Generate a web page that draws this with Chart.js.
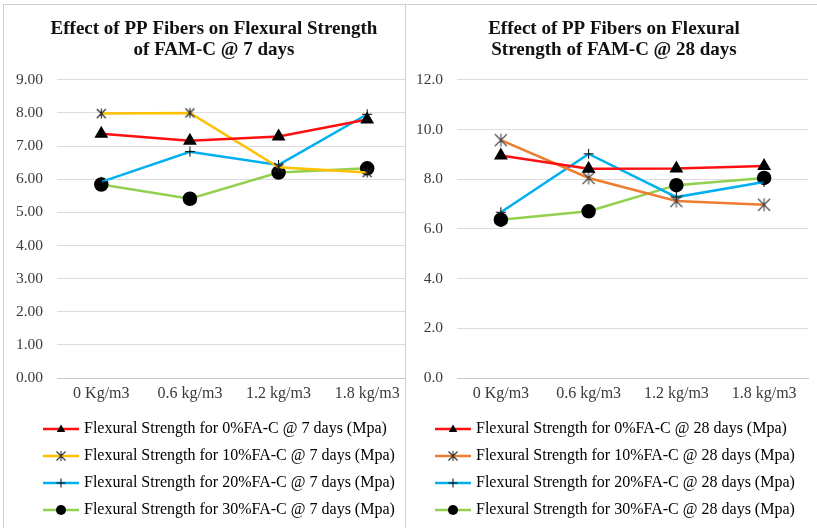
<!DOCTYPE html>
<html>
<head>
<meta charset="utf-8">
<script src="https://cdn.jsdelivr.net/npm/chart.js@4.4.1/dist/chart.umd.min.js"></script>
<style>
  body { margin:0; background:#fff; overflow:hidden; width:817px; height:528px; }
  .panel { position:absolute; top:4px; height:530px; background:#fff; border-top:1px solid #cfcfcf; border-left:1px solid #cfcfcf; }
  canvas { position:absolute; top:5px; }
</style>
</head>
<body>
<div class="panel" style="left:3px;width:430px"></div>
<canvas id="c7" width="416" height="523" style="left:4px;width:416px;height:523px"></canvas>
<div class="panel" style="left:405px;width:420px"></div>
<canvas id="c28" width="411" height="523" style="left:406px;width:411px;height:523px"></canvas>
<script>
// ── DATA ────────────────────────────────────────────────
const fibers = ['0 Kg/m3', '0.6 kg/m3', '1.2 kg/m3', '1.8 kg/m3'];

const fs7_0  = [7.37, 7.16, 7.29, 7.80];
const fs7_10 = [7.98, 8.00, 6.36, 6.20];
const fs7_20 = [5.92, 6.83, 6.43, 7.96];
const fs7_30 = [5.84, 5.41, 6.20, 6.33];

const fs28_0  = [8.95, 8.42, 8.43, 8.53];
const fs28_10 = [9.57, 8.05, 7.12, 6.97];
const fs28_20 = [6.67, 9.02, 7.28, 7.89];
const fs28_30 = [6.37, 6.71, 7.76, 8.05];

const yTicks7  = [0, 1, 2, 3, 4, 5, 6, 7, 8, 9];
const yTicks28 = [0, 2, 4, 6, 8, 10, 12];

const title7  = ['Effect of PP Fibers on Flexural Strength', 'of FAM-C @ 7 days'];
const title28 = ['Effect of PP Fibers on Flexural', 'Strength of FAM-C @ 28 days'];

const FONT = "'Liberation Serif', 'Times New Roman', serif";
const RED = '#ff1010', YEL = '#ffc000', BLUE = '#00b0f0', GREEN = '#92d050', ORANGE = '#ed7d31';

// ── MARKERS ─────────────────────────────────────────────
function drawMarker(ctx, kind, x, y, r, color) {
    ctx.fillStyle = color; ctx.strokeStyle = color;
    ctx.beginPath();
    if (kind === 'triangle') {
        ctx.moveTo(x, y - r); ctx.lineTo(x + r * 0.95, y + r * 0.65); ctx.lineTo(x - r * 0.95, y + r * 0.65);
        ctx.closePath(); ctx.fill();
    } else if (kind === 'circle') {
        ctx.arc(x, y, r, 0, Math.PI * 2); ctx.fill();
    } else if (kind === 'cross') {
        ctx.lineWidth = 1;
        ctx.moveTo(x - r, y); ctx.lineTo(x + r, y); ctx.moveTo(x, y - r); ctx.lineTo(x, y + r); ctx.stroke();
    } else if (kind === 'star') {
        ctx.lineWidth = 1.1;
        ctx.moveTo(x - r, y - r); ctx.lineTo(x + r, y + r);
        ctx.moveTo(x + r, y - r); ctx.lineTo(x - r, y + r);
        ctx.moveTo(x, y - r * 1.1); ctx.lineTo(x, y + r * 1.1);
        ctx.stroke();
    }
}

function starImg(r, color) {
    const c = document.createElement('canvas');
    c.width = c.height = Math.ceil(r * 2 + 4);
    drawMarker(c.getContext('2d'), 'star', c.width / 2, c.height / 2, r, color);
    return c;
}

function legendImg(color, kind, r) {
    const c = document.createElement('canvas');
    c.width = 36; c.height = 16;
    const ctx = c.getContext('2d');
    ctx.strokeStyle = color; ctx.lineWidth = 2.5;
    ctx.beginPath(); ctx.moveTo(0, 8); ctx.lineTo(36, 8); ctx.stroke();
    drawMarker(ctx, kind, 18, 8, r, kind === 'star' ? '#333' : '#000');
    return c;
}

// ── PLUGIN: shift title / legend horizontally ───────────
const nudge = {
    id: 'nudge',
    afterLayout(chart, args, opts) {
        const t = chart.titleBlock, l = chart.legend;
        if (t && opts.titleX) { t.left += opts.titleX; t.right += opts.titleX; }
        if (l && opts.legendX) { l.left += opts.legendX; l.right += opts.legendX; }
    }
};

function series(label, data, color, kind, star) {
    const base = {label, data, borderColor: color, backgroundColor: '#000', borderWidth: 2.5, tension: 0, fill: false};
    if (kind === 'triangle') return {...base, pointStyle: 'triangle', pointRadius: 5.5, pointBorderColor: '#000', pointBackgroundColor: '#000'};
    if (kind === 'circle')   return {...base, pointStyle: 'circle', pointRadius: 6, pointBorderColor: '#000', pointBackgroundColor: '#000'};
    if (kind === 'cross')    return {...base, pointStyle: 'cross', pointRadius: 5, pointBorderColor: '#000', pointBorderWidth: 1};
    return {...base, pointStyle: star, pointRadius: 6};
}

function makeChart(id, cfg) {
    const kinds = ['triangle', 'star', 'cross', 'circle'];
    const legImgs = cfg.colors.map((c, i) => legendImg(c, kinds[i], kinds[i] === 'circle' ? 5 : 4.5));
    return new Chart(document.getElementById(id), {
        type: 'line',
        data: {
            labels: fibers,
            datasets: cfg.series.map((d, i) => series(cfg.names[i], d, cfg.colors[i], kinds[i], cfg.star))
        },
        options: {
            responsive: false,
            animation: false,
            devicePixelRatio: 1,
            layout: {padding: {left: cfg.padLeft, right: cfg.padRight, top: 0, bottom: 0}},
            scales: {
                x: {
                    offset: true,
                    grid: {display: false, drawTicks: false},
                    border: {display: true, color: '#c8c8c8', width: 1},
                    ticks: {color: '#3a3a3a', font: {family: FONT, size: 16}, padding: 6, maxRotation: 0},
                    afterFit: s => { s.height = 32; }
                },
                y: {
                    min: cfg.ticks[0], max: cfg.ticks[cfg.ticks.length - 1],
                    grid: {color: '#dcdcdc', lineWidth: 1, drawTicks: false},
                    border: {display: false},
                    ticks: {stepSize: cfg.ticks[1] - cfg.ticks[0], color: '#3a3a3a', font: {family: FONT, size: 15.5}, padding: 14,
                        callback: v => v.toFixed(cfg.dec)},
                    afterFit: s => { s.width = cfg.yWidth; }
                }
            },
            plugins: {
                nudge: {titleX: cfg.titleX, legendX: cfg.legendX},
                tooltip: {enabled: false},
                title: {
                    display: true, text: cfg.title, color: '#111',
                    font: {family: FONT, size: 19, weight: 'bold', lineHeight: 1.1},
                    padding: {top: 13.5, bottom: 19.5}
                },
                legend: {
                    position: 'bottom', align: 'start',
                    labels: {
                        color: '#2a2a2a', font: {family: FONT, size: 16}, padding: 11,
                        usePointStyle: true, pointStyleWidth: 30,
                        generateLabels: chart => chart.data.datasets.map((ds, i) => ({
                            text: ds.label, datasetIndex: i, pointStyle: legImgs[i], rotation: 0,
                            fillStyle: ds.borderColor, strokeStyle: ds.borderColor, lineWidth: 0, hidden: false
                        }))
                    }
                }
            }
        },
        plugins: [nudge]
    });
}

makeChart('c7', {
    title: title7,
    series: [fs7_0, fs7_10, fs7_20, fs7_30],
    names: ['Flexural Strength for 0%FA-C @ 7 days (Mpa)', 'Flexural Strength for 10%FA-C @ 7 days (Mpa)',
            'Flexural Strength for 20%FA-C @ 7 days (Mpa)', 'Flexural Strength for 30%FA-C @ 7 days (Mpa)'],
    colors: [RED, YEL, BLUE, GREEN],
    star: starImg(4.5, '#222'),
    ticks: yTicks7, dec: 2,
    padLeft: 10, padRight: 4, yWidth: 43, titleX: -1, legendX: 21
});

makeChart('c28', {
    title: title28,
    series: [fs28_0, fs28_10, fs28_20, fs28_30],
    names: ['Flexural Strength for 0%FA-C @ 28 days (Mpa)', 'Flexural Strength for 10%FA-C @ 28 days (Mpa)',
            'Flexural Strength for 20%FA-C @ 28 days (Mpa)', 'Flexural Strength for 30%FA-C @ 28 days (Mpa)'],
    colors: [RED, ORANGE, BLUE, GREEN],
    star: starImg(6, '#444'),
    ticks: yTicks28, dec: 1,
    padLeft: 6, padRight: 9, yWidth: 45, titleX: 4, legendX: 15
});
</script>
</body>
</html>
